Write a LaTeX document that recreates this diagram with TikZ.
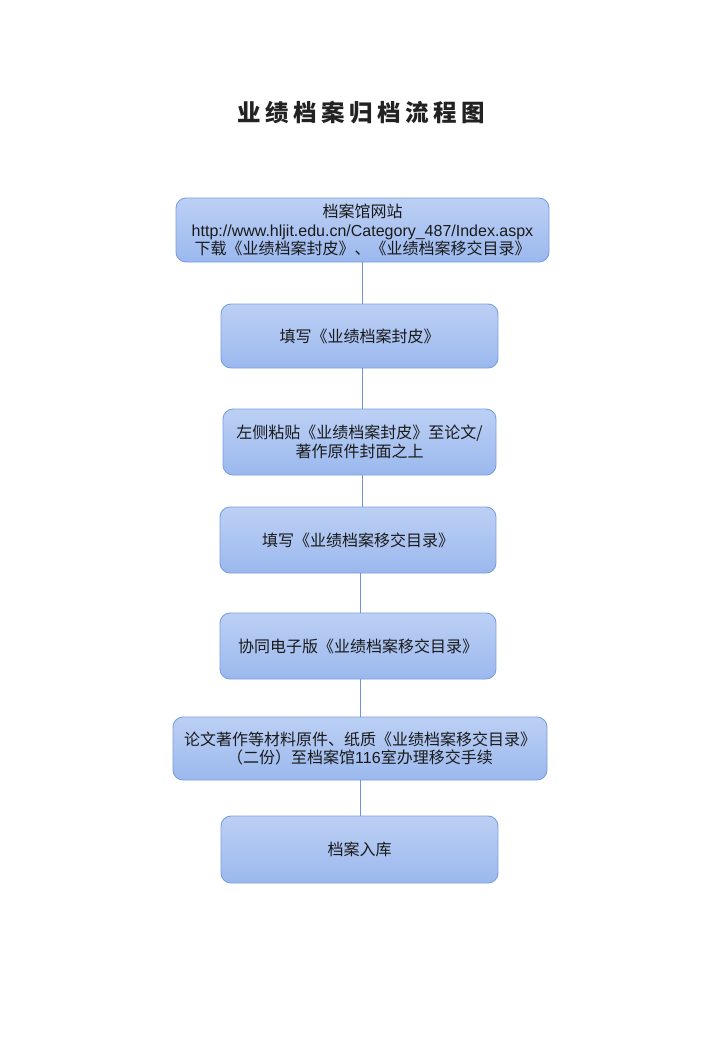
\documentclass[tikz,border=0pt]{standalone}
\usepackage{fontspec}
\setmainfont{Noto Sans CJK SC}
\newfontfamily\lat{Liberation Sans}
\definecolor{boxtop}{HTML}{BCD0F4}
\definecolor{boxbot}{HTML}{9BB8EE}
\definecolor{boxline}{HTML}{7C9EE0}
\definecolor{conn}{HTML}{6F93D4}
\definecolor{txt}{HTML}{1A1A1A}
\definecolor{ttl}{HTML}{222222}
\tikzset{
  flowbox/.style={draw=boxline, line width=0.9pt, rounded corners=10pt,
    top color=boxtop, bottom color=boxbot, align=center, text=txt,
    font=\fontsize{16}{18.8}\selectfont, inner sep=0pt},
  connector/.style={draw=conn, line width=0.9pt},
  titletext/.style={font=\fontsize{23.5}{26}\selectfont\bfseries, text=ttl}
}
\begin{document}
\begin{tikzpicture}[x=1pt,y=-1pt]
\useasboundingbox (0,0) rectangle (720,1039);
\fill[white] (0,0) rectangle (720,1039);
\node[titletext] (title) at (361,113) {业\hspace{4.5pt}绩\hspace{4.5pt}档\hspace{4.5pt}案\hspace{4.5pt}归\hspace{4.5pt}档\hspace{4.5pt}流\hspace{4.5pt}程\hspace{4.5pt}图};
\node[flowbox, minimum width=373pt, minimum height=64pt] (b1) at (362.5,230)
  {档案馆网站\\{\lat http://www.hljit.edu.cn/Category\_487/Index.aspx}\\下载《业绩档案封皮》、《业绩档案移交目录》};
\node[flowbox, minimum width=277pt, minimum height=64pt] (b2) at (359.5,336)
  {填写《业绩档案封皮》};
\node[flowbox, minimum width=273pt, minimum height=66pt] (b3) at (359.5,442)
  {左侧粘贴《业绩档案封皮》至论文/\\著作原件封面之上};
\node[flowbox, minimum width=276pt, minimum height=66pt] (b4) at (358,540)
  {填写《业绩档案移交目录》};
\node[flowbox, minimum width=276pt, minimum height=66pt] (b5) at (358,646)
  {协同电子版《业绩档案移交目录》};
\node[flowbox, minimum width=374pt, minimum height=63pt] (b6) at (360,748.5)
  {论文著作等材料原件、纸质《业绩档案移交目录》\\（二份）至档案馆{\lat 116}室办理移交手续};
\node[flowbox, minimum width=277pt, minimum height=67pt] (b7) at (359.5,849.5)
  {档案入库};
\draw[connector] (b1.south) -- (b1.south |- b2.north);
\draw[connector] (b2.south -| b1.south) -- (b3.north -| b1.south);
\draw[connector] (b3.south -| b1.south) -- (b4.north -| b1.south);
\draw[connector] (b4.south -| b6.south) -- (b5.north -| b6.south);
\draw[connector] (b5.south -| b6.south) -- (b6.north);
\draw[connector] (b6.south) -- (b6.south |- b7.north);
\end{tikzpicture}
\end{document}
